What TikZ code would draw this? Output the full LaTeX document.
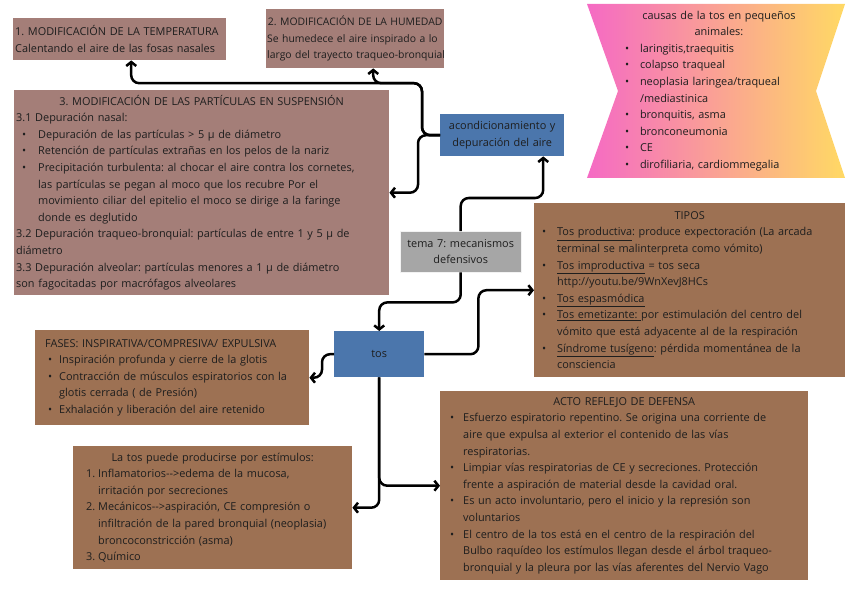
\documentclass[tikz,border=0pt]{standalone}
\usepackage{fontspec}
\setmainfont{Open Sans}
\usepackage{tikz}
\usetikzlibrary{arrows.meta,positioning,calc}

\definecolor{txt}{HTML}{1E1E1E}
\definecolor{mauve}{HTML}{A47E78}
\definecolor{brownbox}{HTML}{9D7153}
\definecolor{bluebox}{HTML}{4B76AC}
\definecolor{graybox}{HTML}{A6A6A6}
\definecolor{pinkside}{HTML}{F56AC4}
\definecolor{yellowside}{HTML}{FFD964}

\newlength\bulpos
\newlength\bulind
\newcommand{\boxfont}{\fontsize{10.9}{16.6}\selectfont\frenchspacing\hyphenpenalty10000\relax}
\newcommand{\ttl}[1]{\makebox[\linewidth]{#1}\par}
\newcommand{\itm}{\par\noindent\hangindent=\bulind\hangafter=1\hbox to \bulind{\hskip\bulpos\textbullet\hss}}
\newcommand{\nitm}[1]{\par\noindent\hangindent=\bulind\hangafter=1\hbox to \bulind{\hskip\bulpos #1\hss}}

\begin{document}
\begin{tikzpicture}[x=1pt, y=-1pt,
    box/.style={anchor=north west, inner xsep=2pt, inner ysep=2pt, text=txt, font=\boxfont, align=left},
    mauvebox/.style={box, fill=mauve},
    brbox/.style={box, fill=brownbox},
    bluenode/.style={box, fill=bluebox, align=center},
    conn/.style={line width=2.5pt, rounded corners=8pt, -{Straight Barb[length=4pt,width=10pt]}}]
    \useasboundingbox (0,0) rectangle (848,596);

    % causas (ribbon shape with gradient)
    \shade[left color=pinkside, right color=yellowside] (587,4) -- (845,4) -- (816,91) -- (845,178) -- (587,178) -- (618,91) -- cycle;
    \node [box, anchor=center, text width=200pt, inner sep=0pt] (causas) at (719,91) {\setlength\bulpos{6pt}\setlength\bulind{21pt}%
        \ttl{causas de la tos en pequeños}\ttl{animales:}%
        \itm laringitis,traequitis
        \itm colapso traqueal
        \itm neoplasia laringea/traqueal\newline /mediastinica
        \itm bronquitis, asma
        \itm bronconeumonia
        \itm CE
        \itm dirofiliaria, cardiommegalia\par};

    % acondicionamiento
    \node [mauvebox, text width=209pt, minimum height=42pt] (temp) at (13,18) {1. MODIFICACIÓN DE LA TEMPERATURA\\Calentando el aire de las fosas nasales};
    \node [mauvebox, inner xsep=1pt, text width=176pt, minimum height=59pt, font=\fontsize{10.4}{16.6}\selectfont\frenchspacing] (hum) at (266,9) {\ttl{2. MODIFICACIÓN DE LA HUMEDAD}%
        \mbox{Se humedece el aire inspirado a lo}\\\mbox{largo del trayecto traqueo-bronquial}};
    \node [mauvebox, text width=371pt, minimum height=205pt] (part) at (14,90) {\setlength\bulpos{6pt}\setlength\bulind{22pt}%
        \ttl{3. MODIFICACIÓN DE LAS PARTÍCULAS EN SUSPENSIÓN}%
        3.1 Depuración nasal:
        \itm Depuración de las partículas > 5 µ de diámetro
        \itm Retención de partículas extrañas en los pelos de la nariz
        \itm Precipitación turbulenta: al chocar el aire contra los cornetes,\newline las partículas se pegan al moco que los recubre Por el\newline movimiento ciliar del epitelio el moco se dirige a la faringe\newline donde es deglutido
        \par 3.2 Depuración traqueo-bronquial: partículas de entre 1 y 5 µ de\newline diámetro
        \par 3.3 Depuración alveolar: partículas menores a 1 µ de diámetro\newline son fagocitadas por macrófagos alveolares\par};
    \node [bluenode, text width=120pt, minimum height=42pt] (acond) at (440,114) {acondicionamiento y\\depuración del aire};

    % centro
    \node [box, fill=graybox, draw=white!85!graybox, align=center, text width=117pt, minimum height=41pt] (tema) at (400,231) {tema 7: mecanismos\\defensivos};
    \node [bluenode, text width=86pt, minimum height=46pt] (tos) at (334,331) {tos};

    % tos
    \node [brbox, text width=307pt, minimum height=174pt] (tipos) at (534,203) {\setlength\bulpos{6pt}\setlength\bulind{21pt}%
        \ttl{TIPOS}%
        \itm \underline{Tos productiva}: produce expectoración (La arcada\newline terminal se malinterpreta como vómito)
        \itm \underline{Tos improductiva} = tos seca\newline http://youtu.be/9WnXevJ8HCs
        \itm \underline{Tos espasmódica}
        \itm \underline{Tos emetizante:\ }por estimulación del centro del\newline vómito que está adyacente al de la respiración
        \itm \underline{Síndrome tusígeno}: pérdida momentánea de la\newline consciencia\par};
    \node [brbox, text width=270pt, minimum height=95pt] (fases) at (35,330) {\setlength\bulpos{11pt}\setlength\bulind{22pt}%
        \hspace*{8pt}FASES: INSPIRATIVA/COMPRESIVA/ EXPULSIVA
        \itm Inspiración profunda y cierre de la glotis
        \itm Contracción de músculos espiratorios con la\newline glotis cerrada ( de Presión)
        \itm Exhalación y liberación del aire retenido\par};
    \node [brbox, text width=275pt, minimum height=123pt] (estim) at (73,446) {\setlength\bulpos{11pt}\setlength\bulind{23pt}%
        \ttl{La tos puede producirse por estímulos:}%
        \nitm{1.}Inflamatorios-{}->edema de la mucosa,\newline irritación por secreciones
        \nitm{2.}Mecánicos-{}->aspiración, CE compresión o\newline infiltración de la pared bronquial (neoplasia)\newline broncoconstricción (asma)
        \nitm{3.}Químico\par};
    \node [brbox, text width=364pt, minimum height=189pt] (acto) at (440,391) {\setlength\bulpos{8pt}\setlength\bulind{21pt}%
        \ttl{ACTO REFLEJO DE DEFENSA}%
        \itm Esfuerzo espiratorio repentino. Se origina una corriente de\newline aire que expulsa al exterior el contenido de las vías\newline respiratorias.
        \itm Limpiar vías respiratorias de CE y secreciones. Protección\newline frente a aspiración de material desde la cavidad oral.
        \itm Es un acto involuntario, pero el inicio y la represión son\newline voluntarios
        \itm El centro de la tos está en el centro de la respiración del\newline Bulbo raquídeo los estímulos llegan desde el árbol traqueo-\newline bronquial y la pleura por las vías aferentes del Nervio Vago\par};

    \draw [conn] (acond.west) -- ++(-18,0) -- ++(0,-52) -| ([xshift=11.5pt]temp.south);
    \draw [conn] (acond.west) -- ++(-18,0) -- ++(0,-52) -| ([xshift=18pt]hum.south);
    \draw [conn] (acond.west) -- ++(-22,0) |- (part.east);
    \draw [conn] (tema.north) -- ++(0,-33) -| ([xshift=41pt]acond.south);
    \draw [conn] (tema.south) -- ++(0,30) -| (tos.north);
    \draw [conn] (tos.east) -- ++(54,0) |- (tipos.west);
    \draw [conn] (tos.west) -- ++(-12,0) |- (fases.east);
    \draw [conn] (tos.south) |- (acto.west);
    \draw [conn] (tos.south) |- (estim.east);
\end{tikzpicture}
\end{document}
